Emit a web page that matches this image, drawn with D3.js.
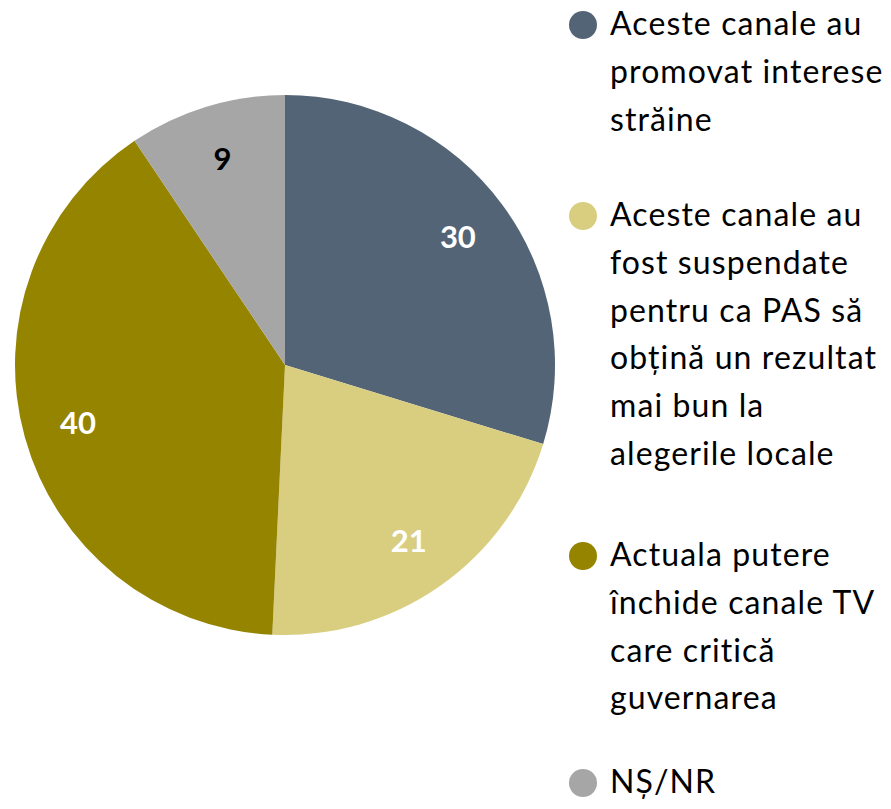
<!DOCTYPE html>
<html>
  <head>
    <meta charset="utf-8">
    <style>
      body { margin: 0; background: #fff; }
      svg text { font-family: "Lato", "Open Sans", sans-serif; }
    </style>
    <script src="https://cdn.jsdelivr.net/npm/d3@7"></script>
  </head>
  <body>
    <svg></svg>
    <script>
      var categories = [
        "Aceste canale au promovat interese străine",
        "Aceste canale au fost suspendate pentru ca PAS să obțină un rezultat mai bun la alegerile locale",
        "Actuala putere închide canale TV care critică guvernarea",
        "NȘ/NR"
      ];
      // legend lines as they wrap in the picture
      var legendLines = [
        ["Aceste canale au", "promovat interese", "străine"],
        ["Aceste canale au", "fost suspendate", "pentru ca PAS să", "obțină un rezultat", "mai bun la", "alegerile locale"],
        ["Actuala putere", "închide canale TV", "care critică", "guvernarea"],
        ["NȘ/NR"]
      ];
      // shares; labels show them rounded
      var values = [29.7, 21.0, 39.8, 9.4];
      var colors = ["#536476", "#d9ce80", "#948400", "#a6a6a6"];
      var labelColors = ["#fff", "#fff", "#fff", "#000"];

      var width = 891, height = 809;
      var cx = 285, cy = 365, radius = 270;

      var svg = d3.select("svg")
          .attr("width", width)
          .attr("height", height);

      var pie = d3.pie().sort(null).value(function(d) { return d; });
      var arc = d3.arc().innerRadius(0).outerRadius(radius);
      var labelArc = d3.arc().innerRadius(215).outerRadius(215);

      var g = svg.append("g")
          .attr("transform", "translate(" + cx + "," + cy + ")");

      var slices = g.selectAll("g.slice")
        .data(pie(values))
        .enter().append("g")
          .attr("class", "slice");

      slices.append("path")
          .attr("d", arc)
          .attr("fill", function(d, i) { return colors[i]; });

      slices.append("text")
          .attr("transform", function(d) { return "translate(" + labelArc.centroid(d) + ")"; })
          .attr("text-anchor", "middle")
          .attr("dy", "0.35em")
          .attr("font-size", 31)
          .attr("font-weight", "bold")
          .attr("fill", function(d, i) { return labelColors[i]; })
          .text(function(d) { return Math.round(d.data); });

      // legend
      var lineH = 47.8;
      var starts = [35, 226, 566, 793];
      var legend = svg.append("g");
      legendLines.forEach(function(lines, i) {
        var lg = legend.append("g");
        lg.append("circle")
            .attr("cx", 583)
            .attr("cy", starts[i] - 10)
            .attr("r", 14)
            .attr("fill", colors[i]);
        lg.append("text")
            .attr("x", 610)
            .attr("y", starts[i])
            .attr("font-size", 32)
            .attr("letter-spacing", 1.1)
            .attr("fill", "#000")
          .selectAll("tspan")
          .data(lines)
          .enter().append("tspan")
            .attr("x", 610)
            .attr("y", function(d, j) { return starts[i] + j * lineH; })
            .text(function(d) { return d; });
      });
    </script>
  </body>
</html>
